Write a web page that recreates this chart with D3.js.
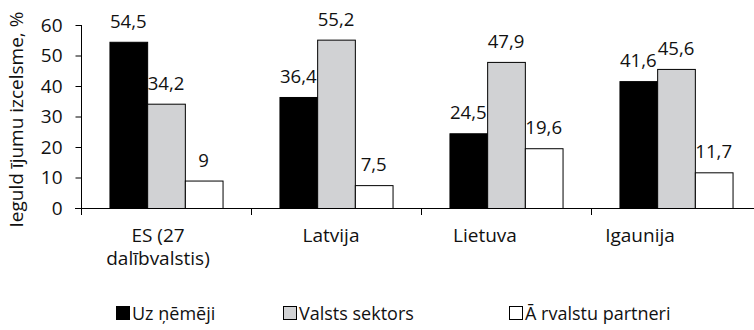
<!DOCTYPE html>
<html>
<head>
<meta charset="utf-8">
<script src="https://cdn.jsdelivr.net/npm/d3@7"></script>
<style>
  html, body { margin: 0; padding: 0; background: #fff; }
  svg { display: block; font-family: "Open Sans", sans-serif; }
</style>
</head>
<body>
<svg id="chart" width="754" height="330"></svg>
<script>
// Categories and investment origin shares (%)
const categories = ["ES (27 dalībvalstis)", "Latvija", "Lietuva", "Igaunija"];
const categoryLines = [["ES (27", "dalībvalstis)"], ["Latvija"], ["Lietuva"], ["Igaunija"]];
const seriesNames = ["Uz ņēmēji", "Valsts sektors", "Ā rvalstu partneri"];
const enterprises = [54.5, 36.4, 24.5, 41.6];
const stateSector = [34.2, 55.2, 47.9, 45.6];
const foreignPartners = [9, 7.5, 19.6, 11.7];
const valueLabels = [
  ["54,5", "36,4", "24,5", "41,6"],
  ["34,2", "55,2", "47,9", "45,6"],
  ["9", "7,5", "19,6", "11,7"]
];
const yTicks = [0, 10, 20, 30, 40, 50, 60];
const yTitle = "Ieguld ījumu izcelsme, %";
const seriesColors = ["#000000", "#d1d2d4", "#ffffff"];
// horizontal nudge of each category caption relative to its band centre
const captionNudge = [-8, -5, -21, -36];

const seriesValues = [enterprises, stateSector, foreignPartners];

const svg = d3.select("#chart");

const x0 = d3.scaleBand().domain(categories).range([81, 761]).paddingInner(0).paddingOuter(0);
const x1 = d3.scaleBand().domain(seriesNames).range([0, x0.bandwidth()]).paddingInner(0).paddingOuter(0.755);
const y = d3.scaleLinear().domain([0, 60]).range([208, 25]);

// bars
const groups = svg.append("g").selectAll("g")
  .data(categories)
  .join("g")
  .attr("transform", d => `translate(${x0(d)},0)`);

groups.each(function(cat, ci) {
  const g = d3.select(this);
  seriesNames.forEach((s, si) => {
    const v = seriesValues[si][ci];
    g.append("rect")
      .attr("x", x1(s) + 0.5)
      .attr("y", y(v) + 0.5)
      .attr("width", x1.bandwidth())
      .attr("height", y(0) - y(v))
      .attr("fill", seriesColors[si])
      .attr("stroke", "#000")
      .attr("stroke-width", 1);
    g.append("text")
      .attr("x", x1(s) + x1.bandwidth() / 2)
      .attr("y", y(v) - 14)
      .attr("text-anchor", "middle")
      .attr("font-size", 18.6)
      .attr("fill", "#111")
      .text(valueLabels[si][ci]);
  });
});

// y axis
const yAxis = svg.append("g")
  .attr("transform", "translate(81.5,0)")
  .call(d3.axisLeft(y).tickValues(yTicks).tickSize(6).tickSizeOuter(0).tickPadding(13).tickFormat(d3.format("d")));
yAxis.select(".domain").remove();
yAxis.selectAll(".tick line").attr("stroke", "#000");
yAxis.selectAll(".tick text").attr("font-size", 19).attr("font-family", "Open Sans, sans-serif").attr("fill", "#111");
svg.append("line")
  .attr("x1", 81.5).attr("x2", 81.5)
  .attr("y1", y(60)).attr("y2", y(0) + 7)
  .attr("stroke", "#000");

// x axis
svg.append("line")
  .attr("x1", 75).attr("x2", 754)
  .attr("y1", y(0) + 0.5).attr("y2", y(0) + 0.5)
  .attr("stroke", "#000");
categories.forEach((c, i) => {
  if (i > 0) {
    svg.append("line")
      .attr("x1", x0(c) + 0.5).attr("x2", x0(c) + 0.5)
      .attr("y1", y(0)).attr("y2", y(0) + 7)
      .attr("stroke", "#000");
  }
  const t = svg.append("text")
    .attr("text-anchor", "middle")
    .attr("font-size", 19)
    .attr("fill", "#111");
  categoryLines[i].forEach((line, li) => {
    t.append("tspan")
      .attr("x", x0(c) + x0.bandwidth() / 2 + captionNudge[i])
      .attr("y", 242 + li * 23)
      .text(line);
  });
});

// y title
svg.append("text")
  .attr("transform", `translate(23,${(y(0) + y(60)) / 2 + 3}) rotate(-90)`)
  .attr("text-anchor", "middle")
  .attr("font-size", 19)
  .attr("fill", "#111")
  .text(yTitle);

// legend
const legendX = [116, 283, 509];
seriesNames.forEach((s, i) => {
  const g = svg.append("g").attr("transform", `translate(${legendX[i]},306)`);
  g.append("rect")
    .attr("x", 0.5).attr("y", 0.5)
    .attr("width", 13).attr("height", 13)
    .attr("fill", seriesColors[i])
    .attr("stroke", "#000");
  g.append("text")
    .attr("x", 16)
    .attr("y", 14)
    .attr("font-size", 18)
    .attr("fill", "#111")
    .text(s);
});
</script>
</body>
</html>
